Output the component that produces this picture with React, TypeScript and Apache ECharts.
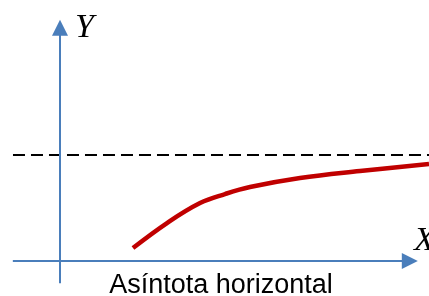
import React, { useEffect, useRef } from "react";
import * as echarts from "echarts";

// Curve approaching the horizontal asymptote (math units)
const curveX = [1.377, 2.019, 2.642, 3.113, 3.585, 4.528, 5.66, 6.962];
const curveY = [0.245, 0.717, 1.094, 1.264, 1.396, 1.566, 1.698, 1.83];
const asymptoteY = 2.0;
const asymptoteX = [-0.887, 6.962];
const xAxisSpan = [-0.89, 6.6];
const yAxisSpan = [-0.42, 4.4];
const axisLabels = ["X", "Y"];
const caption = "Asíntota horizontal";

export default function App() {
  const ref = useRef<HTMLDivElement>(null);
  useEffect(() => {
    if (!ref.current) return;
    const chart = echarts.init(ref.current, undefined, { renderer: "svg" });
    const blue = "#4a7ebb";
    chart.setOption({
      animation: false,
      grid: { left: 0, right: 0, top: 0, bottom: 0 },
      xAxis: { type: "value", min: -1.132, max: 6.962, show: false },
      yAxis: { type: "value", min: -0.66, max: 4.925, show: false },
      series: [
        {
          type: "line",
          data: asymptoteX.map((x) => [x, asymptoteY]),
          symbol: "none",
          lineStyle: { color: "#000", width: 2, type: [12, 6] },
          silent: true,
          z: 2,
        },
        {
          type: "line",
          data: [],
          silent: true,
          markLine: {
            silent: true,
            animation: false,
            symbol: ["none", "triangle"],
            symbolSize: [16, 16],
            label: { show: false },
            lineStyle: { color: blue, width: 2, type: "solid" },
            emphasis: { disabled: true },
            data: [
              [{ coord: [xAxisSpan[0], 0] }, { coord: [xAxisSpan[1], 0] }],
              [{ coord: [0, yAxisSpan[0]] }, { coord: [0, yAxisSpan[1]] }],
            ],
          },
          z: 3,
        },
        {
          type: "line",
          data: curveX.map((x, i) => [x, curveY[i]]),
          smooth: 0.4,
          symbol: "none",
          clip: false,
          lineStyle: { color: "#c00000", width: 4.5 },
          silent: true,
          z: 4,
        },
      ],
      graphic: [
        {
          type: "text",
          x: 75,
          y: 8,
          style: {
            text: axisLabels[1],
            font: "italic 34px 'Liberation Serif', 'Times New Roman', serif",
            fill: "#000",
            textVerticalAlign: "top",
          },
        },
        {
          type: "text",
          x: 414,
          y: 221,
          style: {
            text: axisLabels[0],
            font: "italic 34px 'Liberation Serif', 'Times New Roman', serif",
            fill: "#000",
            textVerticalAlign: "top",
          },
        },
        {
          type: "text",
          x: 221,
          y: 270,
          style: {
            text: caption,
            font: "27px 'Liberation Sans', Arial, sans-serif",
            fill: "#000",
            textAlign: "center",
            textVerticalAlign: "top",
          },
        },
      ],
    });
    return () => chart.dispose();
  }, []);
  return <div ref={ref} style={{ width: 429, height: 296, position: "fixed", left: 0, top: 0 }} />;
}
